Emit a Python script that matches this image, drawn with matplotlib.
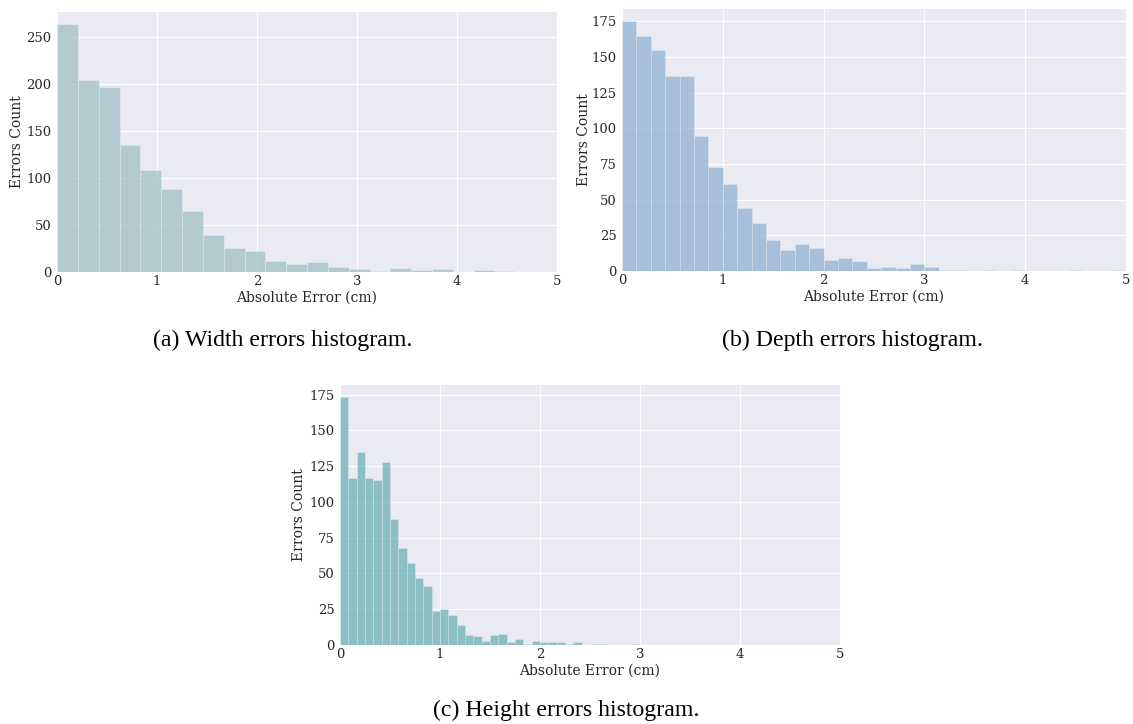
import matplotlib
matplotlib.use("Agg")
import matplotlib.pyplot as plt
import matplotlib.colors as mcolors
import numpy as np

# ---- data (counts per bin) ----
width_bin = 5 / 24
width_counts = [263, 204, 196, 135, 108, 88, 65, 39, 26, 22, 12, 8, 11, 5, 3, 1, 4, 2, 3, 0, 2, 1]

depth_bin = 5 / 35
depth_counts = [175, 165, 155, 137, 137, 95, 73, 61, 44, 34, 22, 15, 19, 16, 8, 9, 7, 2, 3, 2,
                5, 3, 1, 1, 0, 1, 0, 1, 0, 0, 0, 1, 0, 0, 1]

height_bin = 1 / 12
height_counts = [173, 117, 135, 117, 115, 128, 88, 68, 57, 47, 41, 24, 25, 21, 14, 7, 6, 3, 7, 8,
                 2, 4, 1, 3, 2, 2, 2, 1, 2, 0, 1, 1, 0, 0, 0, 1]

captions = ["(a) Width errors histogram.", "(b) Depth errors histogram.", "(c) Height errors histogram."]
colors = ["#a1c1c5", "#92b1d2", "#6bb1b5"]
xlabel = "Absolute Error (cm)"
ylabel = "Errors Count"
xticks = [0, 1, 2, 3, 4, 5]

W, H = 1133, 724
fig = plt.figure(figsize=(W / 100, H / 100), dpi=100)

def px_axes(l, t, r, b):
    return fig.add_axes([l / W, 1 - b / H, (r - l) / W, (b - t) / H])

axes_px = [(57, 12, 557, 272), (622, 9, 1126, 271), (340, 385, 840, 645)]
series = [(width_counts, width_bin), (depth_counts, depth_bin), (height_counts, height_bin)]
yticks = [[0, 50, 100, 150, 200, 250], [0, 25, 50, 75, 100, 125, 150, 175],
          [0, 25, 50, 75, 100, 125, 150, 175]]
caption_pos = [(283, 340), (853, 340), (566, 710)]
ylabelpads = [2, 0.5, 2]

for i, (box, (counts, bw), col) in enumerate(zip(axes_px, series, colors)):
    ax = px_axes(*box)
    ax.set_facecolor("#eaeaf2")
    for s in ax.spines.values():
        s.set_visible(False)
    ax.grid(True, color="white", linewidth=0.8)
    ax.set_axisbelow(True)
    counts = np.array(counts, dtype=float)
    edges = np.arange(len(counts) + 1) * bw
    lefts = edges[:-1]
    fc = mcolors.to_rgba(col, 0.75)
    ax.hist(lefts + bw / 2, bins=edges, weights=counts, facecolor=fc,
            edgecolor=(1, 1, 1, 0.4), linewidth=0.4)
    ax.set_xlim(0, 5)
    ax.set_ylim(0, counts.max() * 1.05)
    ax.set_xticks(xticks)
    ax.set_yticks(yticks[i])
    ax.tick_params(axis="x", length=0, pad=2.5, labelsize=9.5, labelcolor="#262626")
    ax.tick_params(axis="y", length=0, pad=4, labelsize=9.5, labelcolor="#262626")
    for lab in ax.get_xticklabels() + ax.get_yticklabels():
        lab.set_family("DejaVu Serif")
    ax.set_xlabel(xlabel, family="DejaVu Serif", fontsize=10, color="#262626", labelpad=1.5)
    ax.set_ylabel(ylabel, family="DejaVu Serif", fontsize=10, color="#262626",
                  labelpad=ylabelpads[i])
    cx, cy = caption_pos[i]
    fig.text(cx / W, 1 - cy / H, captions[i], ha="center", va="center",
             family="Liberation Serif", fontsize=17.2, color="black")

fig.savefig("out.png", dpi=100)
